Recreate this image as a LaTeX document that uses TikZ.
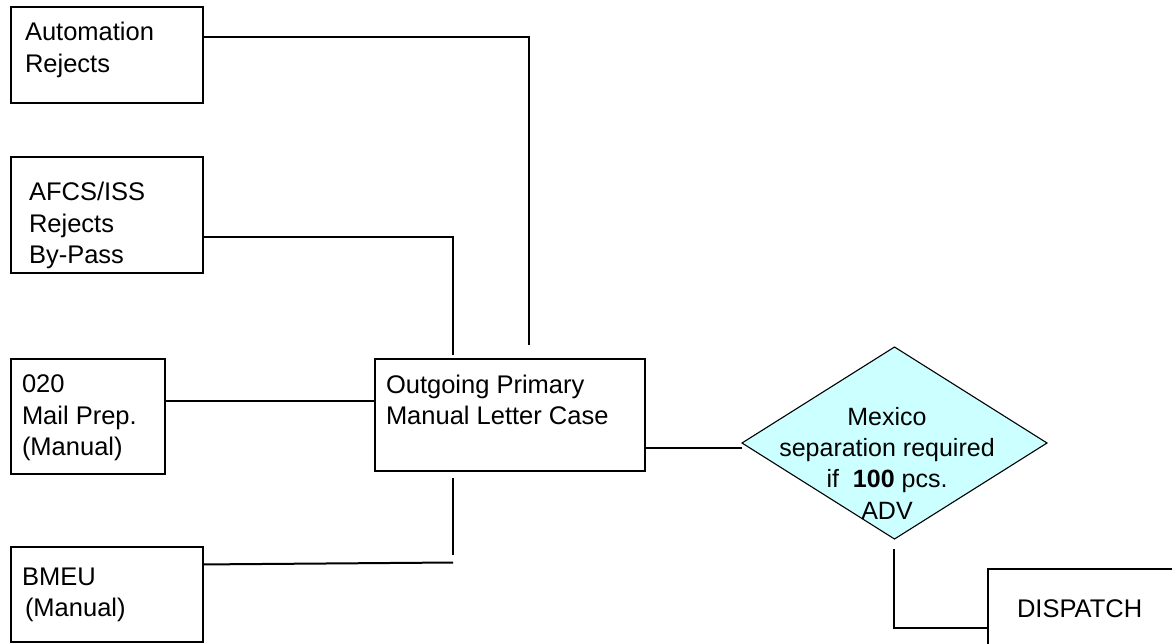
\documentclass[tikz,border=0pt]{standalone}
\usepackage{fontspec}
\setmainfont{Liberation Sans}
\usetikzlibrary{shapes.geometric}

\definecolor{decfill}{RGB}{204,255,255}

% text of a box: #1 left offset, #2 box width, #3 box height,
% #4 first baseline below the top edge, #5 lines
\newcommand\boxtext[5]{\hspace*{#1pt}\parbox[c][#3pt][t]{\dimexpr #2pt-#1pt\relax}{\raggedright\rule{0pt}{#4pt}#5}}

\begin{document}
\begin{tikzpicture}[x=1pt,y=-1pt,
  procbox/.style={draw, line width=2pt, rectangle, anchor=north west,
    inner sep=0pt, outer sep=0pt, font=\fontsize{25.5}{31.5}\selectfont},
  decision/.style={draw, line width=1.1pt, diamond, fill=decfill,
    inner sep=0pt, outer sep=0pt, minimum width=305pt, minimum height=192pt},
  dectext/.style={inner sep=0pt, anchor=north, font=\fontsize{25}{31.3}\selectfont},
  conn/.style={line width=2pt}]
\useasboundingbox (0,0) rectangle (1172,643);

% source boxes on the left
\node[procbox] (auto) at (10.7,6.7) {\boxtext{14.3}{192.3}{96}{34}{Automation\\Rejects}};
\node[procbox] (afcs) at (10.7,156.7) {\boxtext{18.3}{192.3}{116}{44}{AFCS/ISS\\Rejects\\By-Pass}};
\node[procbox] (prep) at (11,359) {\boxtext{11}{154}{115}{33.7}{020\\Mail Prep.\\(Manual)}};
\node[procbox] (bmeu) at (11,547) {\boxtext{11}{192}{95.3}{38}{BMEU\\\hspace*{3pt}(Manual)}};

% central case
\node[procbox] (out) at (375,359) {\boxtext{11}{270}{112}{34}{Outgoing Primary\\Manual Letter Case}};

% decision and its text
\node[decision] (dec) at (894.5,443) {};
\node[dectext] (dectxt) at (887,405) {\parbox[t]{300pt}{\centering\rule{0pt}{20pt}Mexico\\separation required\\if\ \ \textbf{100} pcs.\\ADV}};

% dispatch box, running past the lower right corner
\node[procbox] (disp) at (988,569) {\boxtext{29}{220}{100}{48}{DISPATCH}};

% free ends of the connectors
\coordinate (autoEnd) at (529,345);
\coordinate (afcsEnd) at (453,355);
\coordinate (bmeuEnd) at (453,562.5);
\coordinate (outLow) at (453,478);
\coordinate (outLowEnd) at (453,555);
\coordinate (decLow) at (894,549);
\coordinate (decCorner) at (894,628);

% connectors
\draw[conn] ([yshift=18pt]auto.east) -| (autoEnd);
\draw[conn] ([yshift=-22.3pt]afcs.east) -| (afcsEnd);
\coordinate (prepOut) at ([yshift=15.5pt]prep.east);
\draw[conn] (prepOut) -- (prepOut -| out.west);
\draw[conn] ([yshift=30.2pt]bmeu.east) -- (bmeuEnd);
\draw[conn] (outLow) -- (outLowEnd);
\coordinate (outRight) at ([yshift=-33pt]out.east);
\draw[conn] (outRight) -- (outRight -| dec.west);
\draw[conn] (decLow) -- (decCorner) -- (decCorner -| disp.west);
\end{tikzpicture}
\end{document}
